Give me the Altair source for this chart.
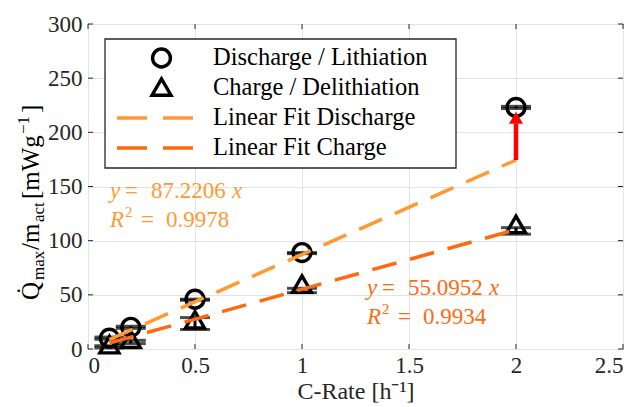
import altair as alt
import pandas as pd

FONT = "Liberation Serif"
LIGHT = "#ff9a33"
DARK = "#ff6a10"

# ---- data ----
c_rate = [0.1, 0.2, 0.5, 1.0, 2.0]
discharge = [10, 20, 46, 89, 223]
discharge_lo = [9, 19, 45, 88, 222]
discharge_hi = [11, 21, 46, 89, 224]
charge = [4, 9, 27, 60, 115]
charge_lo = [1, 5, 18, 52, 106]
charge_hi = [3, 8, 29, 56, 112]

fit_names = ["Linear Fit Discharge", "Linear Fit Charge"]
fit_slopes = [87.2206, 55.0952]
fit_r2 = [0.9978, 0.9934]
fit_x = [0.1, 2.0]

arrow_x = 2.0
arrow_tip = 220
arrow_head_base = 207

legend_labels = ["Discharge / Lithiation", "Charge / Delithiation",
                 "Linear Fit Discharge", "Linear Fit Charge"]
x_ticks = [0, 0.5, 1, 1.5, 2, 2.5]
y_ticks = [0, 50, 100, 150, 200, 250, 300]

# ---- tables ----
pts = pd.DataFrame({
    "x": c_rate * 2,
    "v": discharge + charge,
    "lo": discharge_lo + charge_lo,
    "hi": discharge_hi + charge_hi,
    "s": ["Discharge"] * 5 + ["Charge"] * 5,
})
caps = pd.DataFrame({
    "x": c_rate * 4,
    "c": discharge_lo + discharge_hi + charge_lo + charge_hi,
})
fit = pd.DataFrame({
    "x": fit_x * 2,
    "y": [fit_slopes[0] * v for v in fit_x] + [fit_slopes[1] * v for v in fit_x],
    "s": [fit_names[0]] * 2 + [fit_names[1]] * 2,
})
arrow = pd.DataFrame({
    "x": [arrow_x],
    "y0": [fit_slopes[0] * arrow_x],
    "y1": [arrow_head_base + 1],
    "hm": [(arrow_tip + arrow_head_base) / 2],
})
xt = pd.DataFrame({"t": x_ticks})
yt = pd.DataFrame({"t": y_ticks})

W, H = 535, 325
xs = alt.Scale(domain=[0, 2.5], nice=False, zero=False)
ys = alt.Scale(domain=[0, 300], nice=False, zero=False)
X = alt.X("x:Q", scale=xs, axis=alt.Axis(values=x_ticks, format="~g", title="C-Rate [h⁻¹]"))
Y = alt.Y("v:Q", scale=ys, axis=alt.Axis(values=y_ticks, format="d", title=""))

base_pts = alt.Chart(pts)
stems = base_pts.mark_rule(color="black", strokeWidth=3).encode(
    x=X, y=alt.Y("lo:Q", scale=ys, axis=alt.Axis(values=y_ticks, format="d", title="")), y2="hi:Q")
capmarks = alt.Chart(caps).mark_tick(orient="horizontal", color="black", size=30, thickness=3).encode(
    x=alt.X("x:Q", scale=xs), y=alt.Y("c:Q", scale=ys))
circles = base_pts.transform_filter(alt.datum.s == "Discharge").mark_point(
    shape="circle", size=320, strokeWidth=3.4, color="black", filled=False, opacity=1).encode(x=X, y=Y)
tris = base_pts.transform_filter(alt.datum.s == "Charge").mark_point(
    shape="triangle-up", size=360, strokeWidth=3.4, color="black", filled=False, opacity=1).encode(x=X, y=Y)

fits = alt.Chart(fit).mark_line(strokeWidth=3.5, strokeDash=[25, 14]).encode(
    x=alt.X("x:Q", scale=xs), y=alt.Y("y:Q", scale=ys),
    color=alt.Color("s:N", scale=alt.Scale(domain=fit_names, range=[LIGHT, DARK]), legend=None),
    detail="s:N")

shaft = alt.Chart(arrow).mark_rule(color="red", strokeWidth=4.5).encode(
    x=alt.X("x:Q", scale=xs), y=alt.Y("y0:Q", scale=ys), y2="y1:Q")
head = alt.Chart(arrow).mark_point(shape="triangle-up", size=196, filled=True, color="red", opacity=1).encode(
    x=alt.X("x:Q", scale=xs), y=alt.Y("hm:Q", scale=ys))

# inward ticks on all four sides
TK = dict(color="#262626", strokeWidth=1)
ticks = [
    alt.Chart(xt).mark_rule(**TK).encode(x=alt.X("t:Q", scale=xs), y=alt.value(H - 5), y2=alt.value(H)),
    alt.Chart(xt).mark_rule(**TK).encode(x=alt.X("t:Q", scale=xs), y=alt.value(0), y2=alt.value(5)),
    alt.Chart(yt).mark_rule(**TK).encode(y=alt.Y("t:Q", scale=ys), x=alt.value(0), x2=alt.value(5)),
    alt.Chart(yt).mark_rule(**TK).encode(y=alt.Y("t:Q", scale=ys), x=alt.value(W - 5), x2=alt.value(W)),
]

one = pd.DataFrame({"a": [0]})


def txt(s, px, py, size=23, color="black", italic=False, angle=None):
    kw = dict(text=s, font=FONT, fontSize=size, color=color, align="left", baseline="alphabetic")
    if italic:
        kw["fontStyle"] = "italic"
    if angle is not None:
        kw["angle"] = angle
    return alt.Chart(one).mark_text(**kw).encode(x=alt.value(px), y=alt.value(py))


# plot-area origin is at (88, 24) in the page
OX, OY = 88, 24

def ann(slope, r2, x0, yb, color):
    return [
        txt("y", x0 - OX, yb - OY, color=color, italic=True),
        txt("=", x0 + 15 - OX, yb - OY, color=color),
        txt(f"{slope:.4f}", x0 + 41 - OX, yb - OY, color=color),
        txt("x", x0 + 122 - OX, yb - OY, color=color, italic=True),
        txt("R", x0 - OX, yb + 29 - OY, color=color, italic=True),
        txt("2", x0 + 15 - OX, yb + 19 - OY, size=15, color=color),
        txt("=", x0 + 31 - OX, yb + 29 - OY, color=color),
        txt(f"{r2:.4f}", x0 + 56 - OX, yb + 29 - OY, color=color),
    ]

anns = ann(fit_slopes[0], fit_r2[0], 110, 198, LIGHT) + ann(fit_slopes[1], fit_r2[1], 367, 295, DARK)

# legend
leg_box = alt.Chart(one).mark_rect(fill="white", stroke="#262626", strokeWidth=1.3).encode(
    x=alt.value(105 - OX), x2=alt.value(456 - OX), y=alt.value(39 - OY), y2=alt.value(168 - OY))
leg_c = alt.Chart(one).mark_point(shape="circle", size=320, strokeWidth=3.4, color="black", opacity=1).encode(
    x=alt.value(161.5 - OX), y=alt.value(58 - OY))
leg_t = alt.Chart(one).mark_point(shape="triangle-up", size=360, strokeWidth=3.4, color="black", opacity=1).encode(
    x=alt.value(161.5 - OX), y=alt.value(87 - OY))
leg_l1 = alt.Chart(one).mark_rule(color=LIGHT, strokeWidth=3.5, strokeDash=[30, 16]).encode(
    x=alt.value(117 - OX), x2=alt.value(193 - OX), y=alt.value(118 - OY))
leg_l2 = alt.Chart(one).mark_rule(color=DARK, strokeWidth=3.5, strokeDash=[30, 16]).encode(
    x=alt.value(117 - OX), x2=alt.value(193 - OX), y=alt.value(148 - OY))
leg_txt = [txt(lab, 213 - OX, 65 + 30 * i - OY, size=24.5) for i, lab in enumerate(legend_labels)]

# y-axis title pieces (rotated)
ytitle = [
    txt("Q\u0307", 39 - OX, 300 - OY, size=25, angle=270),
    txt("max", 44 - OX, 280 - OY, size=17, angle=270),
    txt("/m", 39 - OX, 250 - OY, size=25, angle=270),
    txt("act", 44 - OX, 222 - OY, size=17, angle=270),
    txt("[mWg", 39 - OX, 199 - OY, size=25, angle=270),
    txt("\u22121", 29 - OX, 134 - OY, size=17, angle=270),
    txt("]", 39 - OX, 113 - OY, size=25, angle=270),
]

chart = alt.layer(
    stems, capmarks, circles, tris, fits, shaft, head, *ticks,
    *anns, leg_box, leg_c, leg_t, leg_l1, leg_l2, *leg_txt, *ytitle
).properties(
    width=W, height=H,
    autosize=alt.AutoSizeParams(type="none"),
    padding={"left": OX, "top": OY, "right": 17, "bottom": 58},
    background="white",
).configure_view(
    stroke="#262626", strokeWidth=1
).configure_axis(
    grid=True, gridColor="#e3e3e3", gridWidth=1, domain=False, ticks=False,
    labelFont=FONT, labelFontSize=23, labelColor="#262626",
    titleFont=FONT, titleFontSize=24, titleColor="#262626", titleFontWeight="normal",
).configure_axisX(labelPadding=5, titlePadding=2).configure_axisY(labelPadding=6)

chart.save("out.html", embed_options={"renderer": "svg", "actions": False})
